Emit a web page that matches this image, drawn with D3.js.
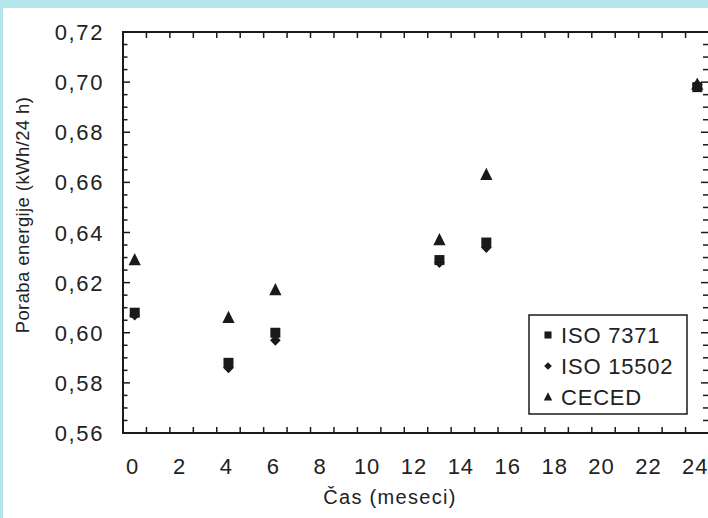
<!DOCTYPE html>
<html><head><meta charset="utf-8">
<script src="https://cdn.jsdelivr.net/npm/d3@7"></script>
<style>
html,body{margin:0;padding:0;background:#b3e6ec;}
svg{display:block}
text{font-family:"Liberation Sans",Arial,sans-serif;fill:#222;}
</style>
</head><body>
<svg id="c" width="708" height="518"></svg>
<script>
// ---- data ----
const months = [0, 4, 6, 13, 15, 24];
const iso7371 = [0.608, 0.588, 0.600, 0.629, 0.636, 0.698];
const iso15502 = [0.607, 0.586, 0.597, 0.628, 0.634, 0.699];
const ceced = [0.629, 0.606, 0.617, 0.637, 0.663, 0.699];
const seriesNames = ["ISO 7371", "ISO 15502", "CECED"];
const xTickLabels = [0, 2, 4, 6, 8, 10, 12, 14, 16, 18, 20, 22, 24];
const yTickLabels = [0.56, 0.58, 0.60, 0.62, 0.64, 0.66, 0.68, 0.70, 0.72];
const xTitle = "Čas (meseci)";
const yTitle = "Poraba energije (kWh/24 h)";

const svg = d3.select("#c");
svg.append("rect").attr("x", 3).attr("y", 8).attr("width", 705).attr("height", 510).attr("fill", "#fff");

const x = d3.scaleLinear().domain([-0.5, 24.5]).range([123, 709]);
const y = d3.scaleLinear().domain([0.56, 0.72]).range([433, 32]);

const ink = "#1a1a1a";
const g = svg.append("g");

const xMinor = d3.range(0.5, 24, 1);
const yMinor = d3.range(0, 33).map(i => 0.56 + i * 0.005).filter(v => Math.abs(((v - 0.56) / 0.02) - Math.round((v - 0.56) / 0.02)) > 1e-6);

g.selectAll(".xb").data(xMinor).join("line")
  .attr("x1", d => x(d)).attr("x2", d => x(d)).attr("y1", y(0.56)).attr("y2", y(0.56) - 6)
  .attr("stroke", ink).attr("stroke-width", 1.5);
g.selectAll(".xt").data(xMinor).join("line")
  .attr("x1", d => x(d)).attr("x2", d => x(d)).attr("y1", y(0.72)).attr("y2", y(0.72) + 6)
  .attr("stroke", ink).attr("stroke-width", 1.5);
g.selectAll(".yl").data(yTickLabels).join("line")
  .attr("x1", x(-0.5)).attr("x2", x(-0.5) + 7).attr("y1", d => y(d)).attr("y2", d => y(d))
  .attr("stroke", ink).attr("stroke-width", 1.5);
g.selectAll(".ylm").data(yMinor).join("line")
  .attr("x1", x(-0.5)).attr("x2", x(-0.5) + 4.5).attr("y1", d => y(d)).attr("y2", d => y(d))
  .attr("stroke", ink).attr("stroke-width", 1.5);
g.selectAll(".yr").data(yTickLabels).join("line")
  .attr("x1", x(24.5)).attr("x2", x(24.5) - 8).attr("y1", d => y(d)).attr("y2", d => y(d))
  .attr("stroke", ink).attr("stroke-width", 1.5);
g.selectAll(".yrm").data(yMinor).join("line")
  .attr("x1", x(24.5)).attr("x2", x(24.5) - 6).attr("y1", d => y(d)).attr("y2", d => y(d))
  .attr("stroke", ink).attr("stroke-width", 1.5);

g.append("rect").attr("x", x(-0.5)).attr("y", y(0.72))
  .attr("width", x(24.5) - x(-0.5)).attr("height", y(0.56) - y(0.72))
  .attr("fill", "none").attr("stroke", ink).attr("stroke-width", 2);

const fmt = v => d3.format(".2f")(v).replace(".", ",");
g.selectAll(".ytl").data(yTickLabels).join("text")
  .attr("x", 104).attr("y", d => y(d) + 8).attr("text-anchor", "end")
  .attr("font-size", 22).attr("letter-spacing", 1.6).text(fmt);
g.selectAll(".xtl").data(xTickLabels).join("text")
  .attr("x", d => x(d) - 2).attr("y", 474).attr("text-anchor", "middle")
  .attr("font-size", 22).attr("letter-spacing", 1).text(d => d);

svg.append("text").attr("x", 390).attr("y", 504).attr("text-anchor", "middle")
  .attr("font-size", 20).attr("letter-spacing", 1.3).text(xTitle);
svg.append("text").attr("transform", "translate(29,215) rotate(-90)").attr("text-anchor", "middle")
  .attr("font-size", 18.5).attr("letter-spacing", 0.4).text(yTitle);

const sq = {draw(ctx, s){const h = Math.sqrt(s)/2; ctx.rect(-h, -h, 2*h, 2*h);}};
const dia = {draw(ctx, s){const h = Math.sqrt(s)/2; ctx.moveTo(0,-h); ctx.lineTo(h,0); ctx.lineTo(0,h); ctx.lineTo(-h,0); ctx.closePath();}};
const tri = {draw(ctx, s){const w = Math.sqrt(s)/2; ctx.moveTo(0,-w*1.15); ctx.lineTo(w,w*0.85); ctx.lineTo(-w,w*0.85); ctx.closePath();}};
const series = [
  {name: seriesNames[0], vals: iso7371, type: sq, size: 100},
  {name: seriesNames[1], vals: iso15502, type: dia, size: 115},
  {name: seriesNames[2], vals: ceced, type: tri, size: 150}
];
series.forEach(s => {
  g.selectAll(null).data(months.map((m, i) => [m, s.vals[i]])).join("path")
    .attr("transform", d => `translate(${x(d[0])},${y(d[1])})`)
    .attr("d", d3.symbol().type(s.type).size(s.size)())
    .attr("fill", ink);
});

const lg = svg.append("g");
lg.append("rect").attr("x", 529).attr("y", 315).attr("width", 158).attr("height", 99)
  .attr("fill", "#fff").attr("stroke", ink).attr("stroke-width", 1.5);
const legendSizes = [50, 60, 70];
series.forEach((s, i) => {
  const cy = 335 + i * 31;
  lg.append("path").attr("transform", `translate(548,${cy})`)
    .attr("d", d3.symbol().type(s.type).size(legendSizes[i])()).attr("fill", ink);
  lg.append("text").attr("x", 561).attr("y", cy + 8).attr("font-size", 22)
    .attr("letter-spacing", 0.8).text(s.name);
});
</script>
</body></html>
